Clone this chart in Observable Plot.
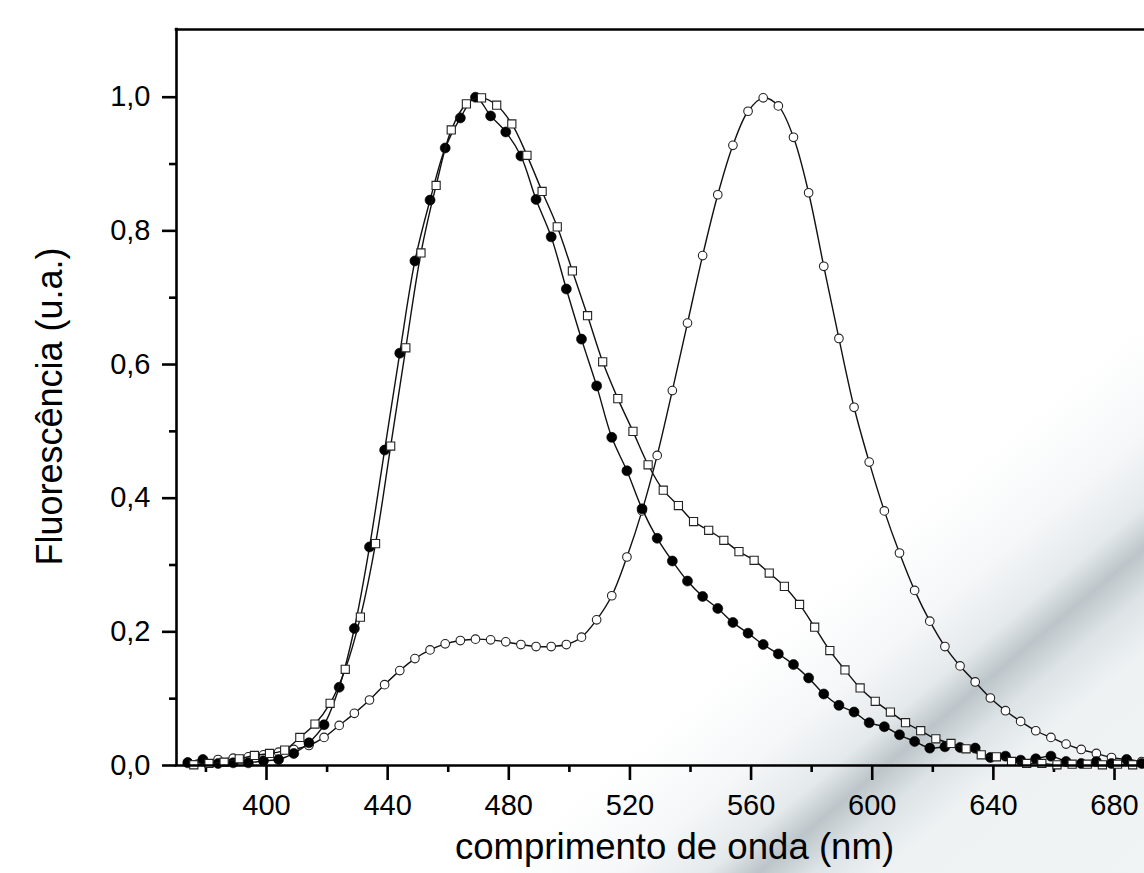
<!DOCTYPE html>
<html><head><meta charset="utf-8">
<script src="https://cdn.jsdelivr.net/npm/d3@7"></script>
<script src="https://cdn.jsdelivr.net/npm/@observablehq/plot@0.6"></script>
<style>
html,body{margin:0;padding:0;background:#fff;}
#wrap{position:relative;width:1144px;height:873px;overflow:hidden;
background:linear-gradient(140deg,#ffffff 0%,#ffffff 70%,#f5f7f8 76%,#e4e9eb 80%,#bcc5c9 82.3%,#dde3e6 84.8%,#eef2f3 88%,#f1f4f5 100%);}
#wrap svg{position:absolute;left:0;top:0;}
</style></head><body><div id="wrap"></div>
<script>
// Filled circles series (markers every 5 nm)
const filledNm = [374,379,384,389,394,399,404,409,414,419,424,429,434,439,444,449,454,459,464,469,474,479,484,489,494,499,504,509,514,519,524,529,534,539,544,549,554,559,564,569,574,579,584,589,594,599,604,609,614,619,624,629,634,639,644,649,654,659,664,669,674,679,684,689];
const filledVal = [0.004,0.009,0.003,0.004,0.004,0.007,0.009,0.018,0.034,0.061,0.117,0.205,0.327,0.472,0.617,0.755,0.846,0.924,0.969,1.000,0.972,0.948,0.912,0.847,0.791,0.713,0.638,0.568,0.491,0.441,0.384,0.340,0.306,0.276,0.253,0.235,0.214,0.198,0.181,0.167,0.151,0.131,0.107,0.090,0.080,0.064,0.058,0.046,0.036,0.026,0.028,0.027,0.026,0.012,0.014,0.008,0.010,0.014,0.006,0.003,0.006,0.003,0.009,0.003];
// Open squares series
const squareNm = [376,381,386,391,396,401,406,411,416,421,426,431,436,441,446,451,456,461,466,471,476,481,486,491,496,501,506,511,516,521,526,531,536,541,546,551,556,561,566,571,576,581,586,591,596,601,606,611,616,621,626,631,636,641,646,651,656,661,666,671,676,681,686];
const squareVal = [0.001,0.003,0.005,0.010,0.015,0.018,0.023,0.042,0.062,0.093,0.144,0.222,0.332,0.478,0.625,0.767,0.868,0.951,0.990,0.999,0.988,0.960,0.913,0.859,0.806,0.740,0.673,0.604,0.549,0.500,0.450,0.412,0.389,0.365,0.352,0.337,0.320,0.307,0.288,0.268,0.241,0.207,0.172,0.143,0.116,0.096,0.080,0.064,0.052,0.040,0.033,0.025,0.016,0.013,0.006,0.003,0.003,0.001,0.002,0.002,0.001,0.002,0.001];
// Open circles series
const openNm = [374,379,384,389,394,399,404,409,414,419,424,429,434,439,444,449,454,459,464,469,474,479,484,489,494,499,504,509,514,519,524,529,534,539,544,549,554,559,564,569,574,579,584,589,594,599,604,609,614,619,624,629,634,639,644,649,654,659,664,669,674,679,684,689];
const openVal = [0.005,0.006,0.009,0.011,0.013,0.016,0.020,0.024,0.030,0.042,0.060,0.078,0.098,0.121,0.142,0.160,0.173,0.182,0.187,0.189,0.188,0.185,0.181,0.178,0.178,0.181,0.192,0.218,0.254,0.312,0.381,0.464,0.561,0.662,0.763,0.854,0.928,0.979,0.999,0.987,0.940,0.857,0.747,0.639,0.536,0.454,0.381,0.318,0.262,0.216,0.178,0.149,0.125,0.101,0.082,0.066,0.052,0.042,0.032,0.024,0.018,0.012,0.009,0.006];

const xMajor = [400,440,480,520,560,600,640,680];
const xMinor = [380,420,460,500,540,580,620,660];
const yMajor = [0,0.2,0.4,0.6,0.8,1.0];
const yMinor = [0.1,0.3,0.5,0.7,0.9];
const xTitle = "comprimento de onda (nm)";
const yTitle = "Fluorescência (u.a.)";

const toRows = (xs, ys) => xs.map((x, i) => ({x, y: ys[i]}));
const filled = toRows(filledNm, filledVal);
const squares = toRows(squareNm, squareVal);
const opens = toRows(openNm, openVal);

const X0 = 370.28, X1 = 689.9, YMAX = 1.1013;
const axisW = 2.6;
const comma = d => d.toFixed(1).replace(".", ",");

const chart = Plot.plot({
  width: 1144, height: 873,
  marginLeft: 176, marginRight: 0, marginTop: 29, marginBottom: 108,
  x: {domain: [X0, X1], label: null},
  y: {domain: [0, YMAX], label: null},
  style: {background: "transparent", fontFamily: "'Liberation Sans', Arial, sans-serif", color: "#000", overflow: "visible"},
  marks: [
    Plot.axisX({ticks: xMajor, tickSize: 15, tickPadding: 14, tickFormat: d => String(d), fontSize: 29, strokeWidth: axisW, label: null}),
    Plot.axisX({ticks: xMinor, tickSize: 7, tickFormat: () => "", strokeWidth: axisW, label: null}),
    Plot.axisY({ticks: yMajor, tickSize: 14, tickPadding: 12, tickFormat: comma, fontSize: 29, strokeWidth: axisW, label: null}),
    Plot.axisY({ticks: yMinor, tickSize: 7, tickFormat: () => "", strokeWidth: axisW, label: null}),
    // open circles series
    Plot.line(opens, {x: "x", y: "y", curve: "catmull-rom", stroke: "#111", strokeWidth: 1.4}),
    Plot.dot(opens, {x: "x", y: "y", r: 4.3, symbol: "circle", fill: "#fff", stroke: "#222", strokeWidth: 1.1}),
    // filled circles series
    Plot.line(filled, {x: "x", y: "y", curve: "catmull-rom", stroke: "#111", strokeWidth: 1.4}),
    Plot.dot(filled, {x: "x", y: "y", r: 5, symbol: "circle", fill: "#000", stroke: "#000", strokeWidth: 0.6}),
    // open squares series
    Plot.line(squares, {x: "x", y: "y", curve: "catmull-rom", stroke: "#111", strokeWidth: 1.4}),
    Plot.dot(squares, {x: "x", y: "y", r: 4.6, symbol: "square", fill: "#fff", stroke: "#222", strokeWidth: 1.1}),
    // frame lines (left, top, bottom)
    Plot.ruleX([X0], {stroke: "#000", strokeWidth: axisW, strokeLinecap: "square"}),
    Plot.ruleY([YMAX], {stroke: "#000", strokeWidth: axisW, strokeLinecap: "square"}),
    Plot.ruleY([0], {stroke: "#000", strokeWidth: axisW, strokeLinecap: "square"})
  ]
});

const svg = d3.select(chart);
svg.append("text")
  .attr("x", 674.5).attr("y", 859)
  .attr("text-anchor", "middle")
  .attr("font-size", 36.6)
  .attr("fill", "#000")
  .text(xTitle);
svg.append("text")
  .attr("transform", "translate(61.5,406.5) rotate(-90)")
  .attr("text-anchor", "middle")
  .attr("font-size", 36)
  .attr("fill", "#000")
  .text(yTitle);

document.getElementById("wrap").appendChild(chart);
</script>
</body></html>
